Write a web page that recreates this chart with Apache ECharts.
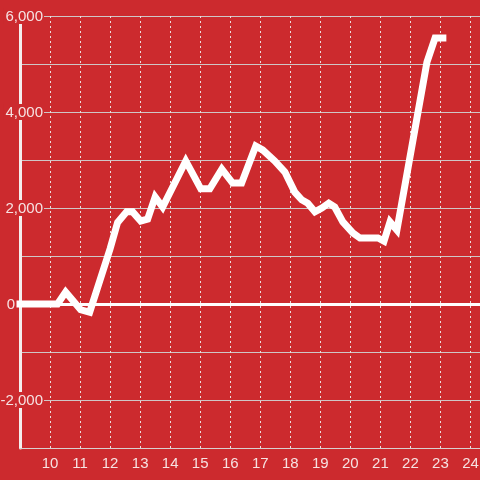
<!DOCTYPE html>
<html>
<head>
<meta charset="utf-8">
<script src="https://cdn.jsdelivr.net/npm/echarts@6/dist/echarts.min.js"></script>
<style>
html,body{margin:0;padding:0;background:#cc2a2e;}
#chart{width:480px;height:480px;}
</style>
</head>
<body>
<div id="chart"></div>
<script>
// Data (hour of day, value)
var hours = [9.0, 10.25, 10.52, 11.02, 11.32, 12.0, 12.25, 12.55, 12.75, 13.02, 13.25, 13.5, 13.75, 14.52, 15.02, 15.32, 15.72, 16.08, 16.38, 16.85, 17.08, 17.48, 17.82, 18.15, 18.38, 18.58, 18.82, 19.05, 19.28, 19.48, 19.75, 20.08, 20.32, 20.92, 21.12, 21.32, 21.55, 22.55, 22.82, 23.08];
var values = [0, 0, 250, -120, -170, 1150, 1700, 1920, 1920, 1730, 1770, 2230, 2020, 2980, 2400, 2400, 2810, 2520, 2520, 3290, 3210, 2980, 2750, 2330, 2170, 2100, 1920, 2000, 2100, 2020, 1710, 1480, 1375, 1375, 1310, 1710, 1540, 5040, 5540, 5540];
var xTickLabels = [10, 11, 12, 13, 14, 15, 16, 17, 18, 19, 20, 21, 22, 23, 24];
var yTickLabels = [-2000, 0, 2000, 4000, 6000];

var seriesData = hours.map(function (h, i) { return [h, values[i]]; });
var BG = '#cc2a2e';
var TXT = '#f6e2e2';

var chart = echarts.init(document.getElementById('chart'), null, {renderer: 'canvas'});
chart.setOption({
  backgroundColor: BG,
  animation: false,
  grid: {left: 20, right: 0, top: 16, bottom: 32, containLabel: false, outerBoundsMode: 'none'},
  xAxis: {
    type: 'value',
    min: 9,
    max: 9 + 459.5 / 30,
    interval: 1,
    axisLine: {show: true, onZero: false, lineStyle: {color: '#d8d0d0', width: 1}},
    axisTick: {show: false},
    axisLabel: {
      color: TXT, fontSize: 15, fontFamily: 'Liberation Sans, Arial, sans-serif', margin: 8,
      showMinLabel: true, showMaxLabel: true,
      formatter: function (v) { return xTickLabels.indexOf(v) >= 0 ? String(v) : ''; }
    },
    splitLine: {show: true, lineStyle: {color: '#eadede', width: 1, type: [2, 3]}}
  },
  yAxis: {
    type: 'value',
    min: -3000,
    max: 6000,
    interval: 1000,
    axisLine: {show: true, onZero: false, lineStyle: {color: '#f4eeee', width: 3}},
    axisTick: {show: false},
    axisLabel: {
      margin: -24,
      align: 'right',
      formatter: function (v) {
        if (yTickLabels.indexOf(v) < 0) return '';
        if (v === 0) return '{z|0}';
        return '{a|' + v.toLocaleString('en-US') + '}';
      },
      rich: {
        a: {color: TXT, fontSize: 15, fontFamily: 'Liberation Sans, Arial, sans-serif', backgroundColor: BG, padding: [1, 1, 0, 2], lineHeight: 15},
        z: {color: TXT, fontSize: 15, fontFamily: 'Liberation Sans, Arial, sans-serif', padding: [1, 29, 0, 0], lineHeight: 15}
      }
    },
    splitLine: {show: true, lineStyle: {color: '#cfc6c6', width: 1}}
  },
  series: [{
    type: 'line',
    data: seriesData,
    showSymbol: false,
    symbol: 'none',
    lineStyle: {color: '#ffffff', width: 7, cap: 'square', join: 'miter'},
    markLine: {
      silent: true,
      symbol: 'none',
      label: {show: false},
      lineStyle: {color: '#ffffff', width: 3, type: 'solid'},
      data: [{yAxis: 0}]
    },
    z: 3
  }]
});
</script>
</body>
</html>
